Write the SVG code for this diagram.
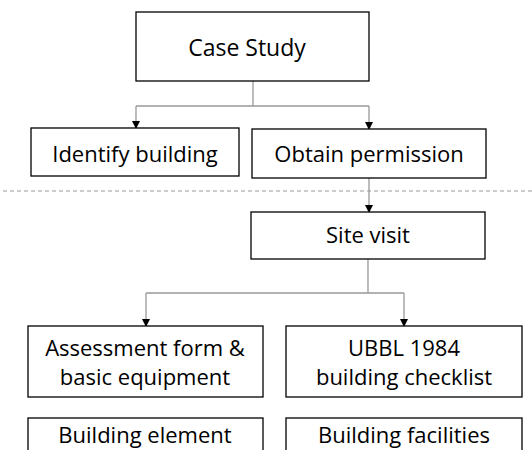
<svg xmlns="http://www.w3.org/2000/svg" width="532" height="450" viewBox="0 0 532 450">
<style>
.box{fill:#fff;stroke:#000;stroke-width:1.3}
.t{font-family:"Open Sans","Liberation Sans",sans-serif;font-size:22px;fill:#000;text-anchor:middle}
.c{fill:none;stroke:#999;stroke-width:1.3}
.d{fill:none;stroke:#999;stroke-width:1;stroke-dasharray:4 3}
</style>
<defs>
<marker id="ah" markerWidth="8" markerHeight="8" refX="7" refY="4" orient="auto" markerUnits="userSpaceOnUse">
<path d="M0,0 L8,4 L0,8 Z" fill="#000"/>
</marker>
</defs>
<g id="connectors">
<line class="d" x1="3" y1="191" x2="532" y2="191"/>
<path class="c" d="M253,81 V106"/>
<path class="c" d="M136,106 H369"/>
<path class="c" d="M136,106 V128" marker-end="url(#ah)"/>
<path class="c" d="M369,106 V129" marker-end="url(#ah)"/>
<path class="c" d="M369,178 V212" marker-end="url(#ah)"/>
<path class="c" d="M368,259 V293"/>
<path class="c" d="M146,293 H404"/>
<path class="c" d="M146,293 V326" marker-end="url(#ah)"/>
<path class="c" d="M404,293 V326" marker-end="url(#ah)"/>
</g>
<g id="case-study"><rect class="box" x="136" y="12" width="233" height="69"/><text class="t" x="247" y="56" style="font-size:23px">Case Study</text></g>
<g id="identify-building"><rect class="box" x="31" y="128" width="208" height="48"/><text class="t" x="135" y="162">Identify building</text></g>
<g id="obtain-permission"><rect class="box" x="252" y="129" width="234" height="49"/><text class="t" x="369" y="162">Obtain permission</text></g>
<g id="site-visit"><rect class="box" x="251" y="212" width="234" height="47"/><text class="t" x="368" y="243">Site visit</text></g>
<g id="assessment"><rect class="box" x="28" y="326" width="235" height="71"/><text class="t" x="145" y="356">Assessment form &amp;</text><text class="t" x="145" y="385">basic equipment</text></g>
<g id="ubbl"><rect class="box" x="286" y="326" width="236" height="71"/><text class="t" x="404" y="356">UBBL 1984</text><text class="t" x="404" y="385">building checklist</text></g>
<g id="building-element"><rect class="box" x="28" y="418" width="235" height="40"/><text class="t" x="145" y="443">Building element</text></g>
<g id="building-facilities"><rect class="box" x="286" y="418" width="236" height="40"/><text class="t" x="404" y="443">Building facilities</text></g>
</svg>
